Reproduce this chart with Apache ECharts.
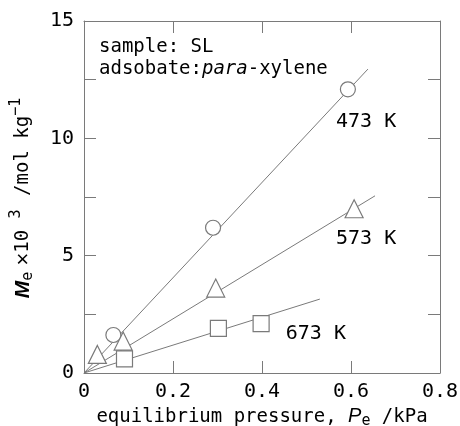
<!DOCTYPE html>
<html><head><meta charset="utf-8">
<script src="https://cdn.jsdelivr.net/npm/echarts@6/dist/echarts.min.js"></script>
<style>html,body{margin:0;padding:0;background:#fff}#c{width:460px;height:426px}</style>
</head><body><div id="c"></div>
<script>
// ---- data ----
const xTicks = [0, 0.2, 0.4, 0.6, 0.8];
const yTickLabels = ['0', '5', '10', '15'];
const pts473 = [[0.066, 1.62], [0.290, 6.19], [0.593, 12.09]];
const pts573 = [[0.030, 0.79], [0.088, 1.36], [0.296, 3.62], [0.607, 7.00]];
const pts673 = [[0.091, 0.60], [0.302, 1.90], [0.398, 2.10]];
const fit473 = [[0, 0], [0.638, 12.95]];
const fit573 = [[0, 0], [0.654, 7.55]];
const fit673 = [[0, 0], [0.530, 3.15]];
const tempLabels = ['473 K', '573 K', '673 K'];
const tempLabelPos = [[0.634, 10.70], [0.634, 5.72], [0.521, 1.68]];

const FONT = 'DejaVu Sans Mono';
const GRAY = '#7a7a7a';
const chart = echarts.init(document.getElementById('c'));

const lineSeries = (d) => ({
  type: 'line', data: d, symbol: 'none', z: 1, silent: true,
  lineStyle: { color: GRAY, width: 1 }
});
const ptSeries = (d, sym, size) => ({
  type: 'scatter', data: d, symbol: sym, symbolSize: size, z: 3,
  itemStyle: { color: '#fff', borderColor: GRAY, borderWidth: 1.2, opacity: 1 }
});

const axisCommon = () => ({
  axisLine: { show: true, onZero: false, lineStyle: { color: GRAY, width: 1 } },
  axisTick: { show: true, inside: true, length: 12, lineStyle: { color: GRAY, width: 1 } },
  splitLine: { show: false }
});

chart.setOption({
  animation: false,
  grid: { left: 84, right: 20, top: 21, bottom: 53, containLabel: false, outerBoundsMode: 'none' },
  xAxis: [
    Object.assign({
      type: 'value', min: 0, max: 0.8, interval: 0.2, position: 'bottom',
      axisLabel: { color: '#000', fontFamily: FONT, fontSize: 20, margin: 9,
        formatter: v => { const t = xTicks.find(x => Math.abs(x - v) < 1e-9); return t === 0 ? '0' : t.toFixed(1); } },
      name: '{n|equilibrium pressure, }{i|P}{s|e}{n| /kPa}',
      nameLocation: 'middle', nameGap: 30,
      nameTextStyle: { rich: {
        n: { fontFamily: FONT, fontSize: 19, color: '#000' },
        i: { fontFamily: 'Liberation Sans', fontStyle: 'italic', fontSize: 20, color: '#000' },
        s: { fontFamily: FONT, fontSize: 15, color: '#000', padding: [8, 0, 0, 0] }
      } }
    }, axisCommon()),
    Object.assign({
      type: 'value', min: 0, max: 0.8, interval: 0.2, position: 'top',
      axisLabel: { show: false }
    }, axisCommon())
  ],
  yAxis: [
    Object.assign({
      type: 'value', min: 0, max: 15, interval: 2.5, position: 'left',
      axisLabel: { color: '#000', fontFamily: FONT, fontSize: 20, margin: 10,
        formatter: v => (Math.abs(v % 5) < 1e-9 ? yTickLabels[Math.round(v / 5)] : '') },
      name: '{b|M}{s|e}{x| ×}{n|10 }{u|3}{n| /mol kg}{u|−1}',
      nameLocation: 'middle', nameGap: 46, nameRotate: 90,
      nameTextStyle: { rich: {
        b: { fontFamily: 'Liberation Sans', fontStyle: 'italic', fontWeight: 'bold', fontSize: 21, color: '#000' },
        n: { fontFamily: FONT, fontSize: 19, color: '#000' },
        x: { fontFamily: 'Liberation Sans', fontSize: 22, color: '#000' },
        s: { fontFamily: FONT, fontSize: 15, color: '#000', padding: [10, 0, 0, 0] },
        u: { fontFamily: FONT, fontSize: 15, color: '#000', padding: [0, 2, 14, 0] }
      } }
    }, axisCommon()),
    Object.assign({
      type: 'value', min: 0, max: 15, interval: 2.5, position: 'right',
      axisLabel: { show: false }
    }, axisCommon())
  ],
  graphic: [
    { type: 'text', left: 99, top: 38, style: { text: 'sample: SL', font: '19px "DejaVu Sans Mono"', fill: '#000' } },
    { type: 'text', left: 99, top: 60, style: {
      text: '{a|adsobate:}{i|para}{a|-xylene}',
      rich: {
        a: { fontFamily: FONT, fontSize: 19, fill: '#000', color: '#000' },
        i: { fontFamily: FONT, fontStyle: 'italic', fontSize: 19, fill: '#000', color: '#000' }
      } } }
  ],
  series: [
    lineSeries(fit473), lineSeries(fit573), lineSeries(fit673),
    ptSeries(pts473, 'circle', 15),
    ptSeries(pts573, 'triangle', 18),
    ptSeries(pts673, 'rect', 16),
    {
      type: 'scatter', symbol: 'circle', symbolSize: 1, z: 4, silent: true,
      itemStyle: { color: 'rgba(0,0,0,0)', opacity: 1 },
      data: tempLabelPos.map((p, i) => ({ value: p, name: tempLabels[i] })),
      label: { show: true, position: 'inside', formatter: p => p.name, opacity: 1,
        textBorderWidth: 0, fontFamily: FONT, fontSize: 20, color: '#000' }
    }
  ]
});
</script></body></html>
